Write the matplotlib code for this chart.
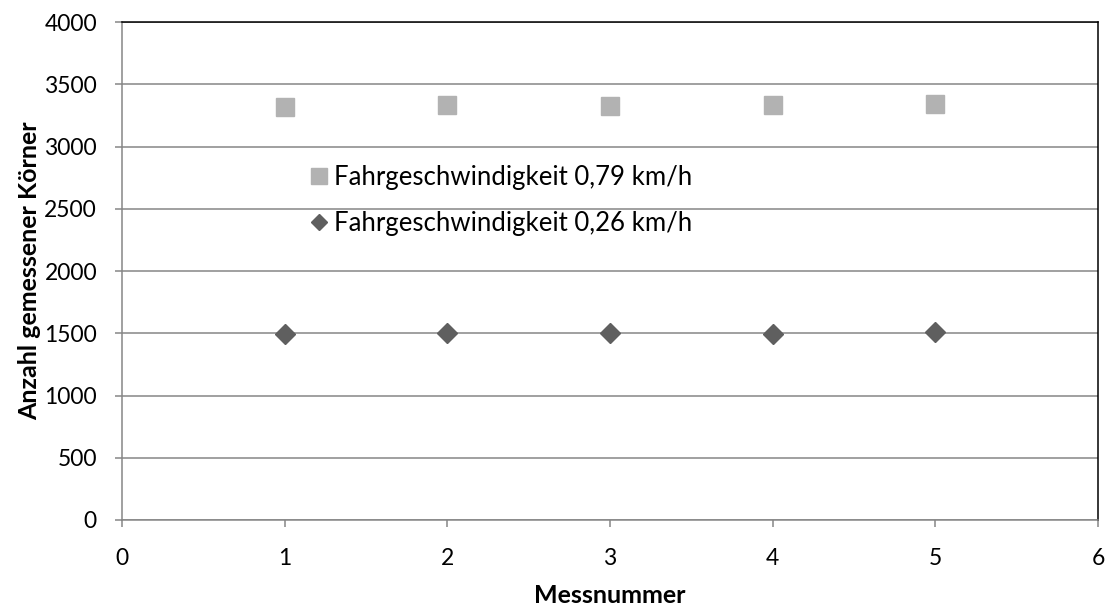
import numpy as np
import matplotlib
matplotlib.use("Agg")
import matplotlib.pyplot as plt

# Messwerte je Messnummer
messnummer = [1, 2, 3, 4, 5]
koerner_079 = [3317, 3335, 3325, 3331, 3341]
koerner_026 = [1490, 1503, 1498, 1491, 1509]
labels = ["Fahrgeschwindigkeit 0,79 km/h", "Fahrgeschwindigkeit 0,26 km/h"]

plt.rcParams['font.family'] = ['Lato', 'DejaVu Sans']

fig = plt.figure(figsize=(11.1, 6.06), dpi=100)
ax = fig.add_axes([122 / 1110, 86 / 606, 976 / 1110, 498 / 606])

grid_col = '#868686'
ax.plot(messnummer, koerner_079, linestyle='none', marker='s', ms=13,
        color='#b2b2b2', mec='#b2b2b2', label=labels[0], zorder=3)
ax.plot(messnummer, koerner_026, linestyle='none', marker='D', ms=10,
        color='#5f5f5f', mec='#5f5f5f', label=labels[1], zorder=3)

ax.set_xlim(0, 6)
ax.set_ylim(0, 4000)
ax.set_xticks(range(0, 7))
ax.set_yticks(range(0, 4001, 500))
ax.yaxis.grid(True, color=grid_col, lw=1.1)
ax.set_axisbelow(True)

for s in ['left', 'bottom']:
    ax.spines[s].set_color(grid_col)
    ax.spines[s].set_linewidth(1.1)
for s in ['top', 'right']:
    ax.spines[s].set_color('black')
    ax.spines[s].set_linewidth(1.1)

ax.tick_params(axis='both', direction='out', length=5, width=1.1,
               color=grid_col, labelsize=16.5)
ax.tick_params(axis='y', pad=13)
ax.tick_params(axis='x', pad=15)

ax.set_xlabel("Messnummer", fontsize=18, fontweight='bold', labelpad=11)
ax.set_ylabel("Anzahl gemessener Körner", fontsize=18, fontweight='bold',
              labelpad=2)

ax.legend(loc='center left', bbox_to_anchor=(0.194, 0.6416), frameon=False,
          fontsize=18.5, markerscale=0.85, handlelength=0.6, handletextpad=0.3,
          labelspacing=0.85, borderaxespad=0, borderpad=0)

fig.savefig("out.png", dpi=100)
